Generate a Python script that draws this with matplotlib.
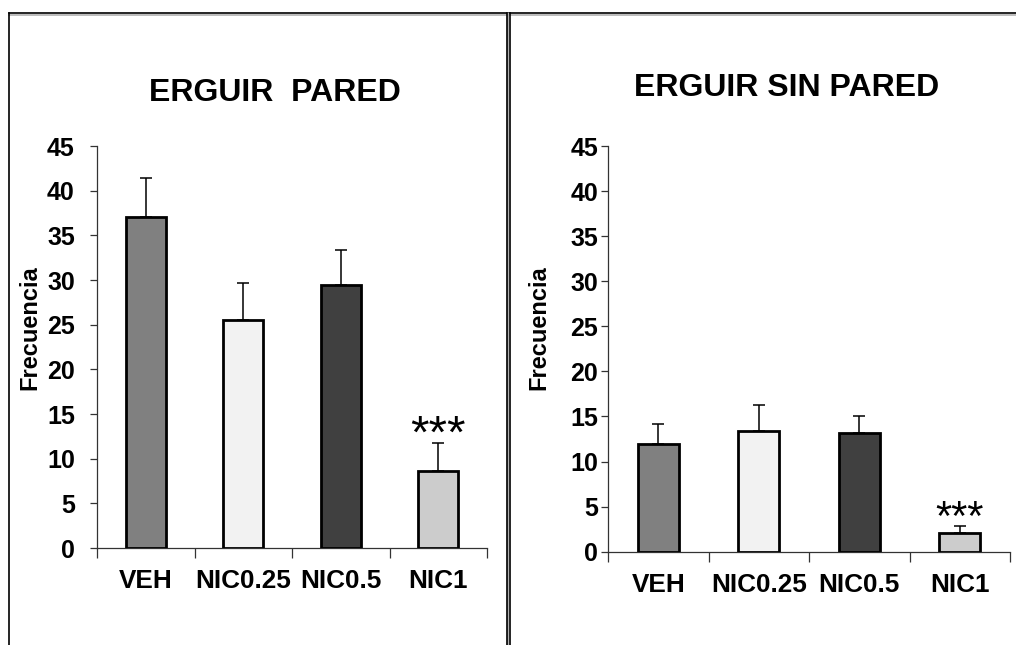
import matplotlib
matplotlib.use("Agg")
import matplotlib.pyplot as plt
from matplotlib.lines import Line2D

plt.rcParams['font.family'] = ['Liberation Sans', 'DejaVu Sans']

categories = ["VEH", "NIC0.25", "NIC0.5", "NIC1"]
colors = ["#808080", "#f2f2f2", "#404040", "#cccccc"]

pared_mean = [37.1, 25.5, 29.4, 8.6]
pared_sem = [4.3, 4.2, 4.0, 3.2]

sin_pared_mean = [11.9, 13.4, 13.2, 2.1]
sin_pared_sem = [2.3, 2.9, 1.8, 0.8]

yticks = [0, 5, 10, 15, 20, 25, 30, 35, 40, 45]

W, H = 1016, 645
fig = plt.figure(figsize=(W / 100, H / 100), dpi=100)


def px(x0, y0, x1, y1):
    return [x0 / W, 1 - y1 / H, (x1 - x0) / W, (y1 - y0) / H]


def panel(rect, title, title_xy, means, sems, ylabel_x, ytick_pad,
          star_size):
    ax = fig.add_axes(rect)
    x = list(range(len(categories)))
    ax.bar(x, means, width=0.41, color=colors, edgecolor="black",
           linewidth=2.0, zorder=3)
    ax.errorbar(x, means, yerr=[[0] * len(sems), sems], fmt="none",
                ecolor="black", elinewidth=1.1, capsize=4, capthick=1.1,
                zorder=2)
    ax.set_xlim(-0.5, 3.5)
    ax.set_ylim(0, 45)
    ax.set_yticks(yticks)
    ax.set_yticklabels([str(v) for v in yticks], fontsize=18,
                       fontweight="bold")
    ax.tick_params(axis="y", direction="out", length=5, width=0.9,
                   pad=ytick_pad, color="#333333")
    ax.set_xticks([-0.5, 0.5, 1.5, 2.5, 3.5])
    ax.set_xticklabels([])
    ax.tick_params(axis="x", which="major", direction="out", length=7,
                   width=0.9, color="#333333")
    ax.set_xticks(x, minor=True)
    ax.set_xticklabels(categories, minor=True, fontsize=18.8,
                       fontweight="bold")
    ax.tick_params(axis="x", which="minor", length=0, pad=15)
    for s in ("top", "right"):
        ax.spines[s].set_visible(False)
    for s in ("left", "bottom"):
        ax.spines[s].set_color("#333333")
        ax.spines[s].set_linewidth(0.9)
    # significance marks above the last bar
    ax.annotate("***", xy=(3, means[3] + sems[3]), xytext=(0, -3.5),
                textcoords="offset points", ha="center", va="baseline",
                fontsize=star_size)
    fig.text(ylabel_x / W, 1 - 328 / H, "Frecuencia", rotation=90,
             ha="center", va="center", fontsize=17, fontweight="bold")
    fig.text(title_xy[0] / W, 1 - title_xy[1] / H, title, ha="center",
             va="center", fontsize=23, fontweight="bold")
    return ax


panel(px(97, 146, 487, 548), "ERGUIR  PARED", (275, 93),
      pared_mean, pared_sem, 30, 11, 34)
panel(px(608, 146, 1010, 551.7), "ERGUIR SIN PARED", (787, 88),
      sin_pared_mean, sin_pared_sem, 539, 2, 30)

# panel frames
def fline(xs, ys, color, lw):
    fig.add_artist(Line2D([v / W for v in xs], [1 - v / H for v in ys],
                          color=color, linewidth=lw))

fline([9, 507], [14.5, 14.5], "#b0b0b0", 1.2)
fline([509, 1016], [14.5, 14.5], "#b0b0b0", 1.2)
fline([9, 9], [13, 645], "black", 1.2)
fline([9, 507], [13, 13], "black", 1.2)
fline([509, 1016], [13, 13], "black", 1.2)
fline([508, 508], [14, 645], "#b0b0b0", 1.6)
fline([506.5, 506.5], [13, 645], "black", 1.2)
fline([509.5, 509.5], [13, 645], "black", 1.2)

fig.savefig("out.png", dpi=100, facecolor="white")
